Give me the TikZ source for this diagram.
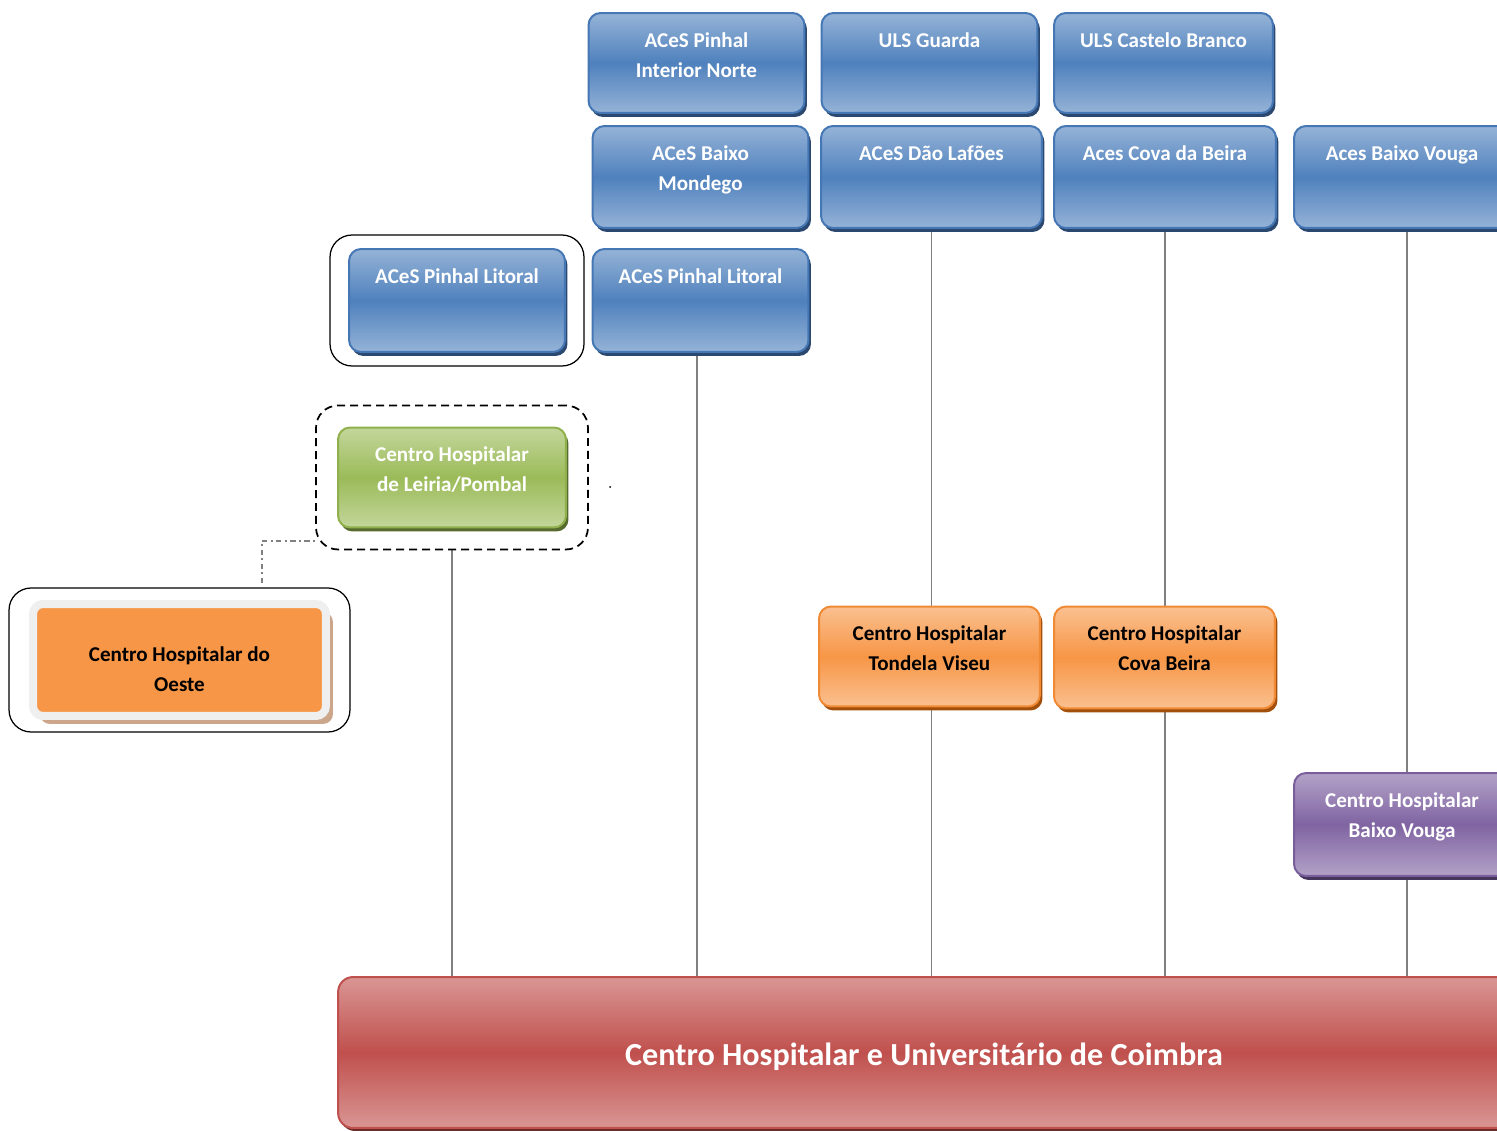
\documentclass[tikz,border=0pt]{standalone}
\usepackage{fontspec}
\setmainfont{Carlito}
\usetikzlibrary{positioning,shadows,fit,backgrounds}

\definecolor{blueLt}{HTML}{95B3D7}
\definecolor{blueMd}{HTML}{4F81BD}
\definecolor{blueBd}{HTML}{4677B5}
\definecolor{blueSh}{HTML}{2A4870}
\definecolor{greenLt}{HTML}{C3D69B}
\definecolor{greenMd}{HTML}{9BBB59}
\definecolor{greenBd}{HTML}{8FB04C}
\definecolor{greenSh}{HTML}{566B2E}
\definecolor{orangeLt}{HTML}{FAC090}
\definecolor{orangeMd}{HTML}{F79646}
\definecolor{orangeBd}{HTML}{F08A35}
\definecolor{orangeSh}{HTML}{A24F0C}
\definecolor{purpleLt}{HTML}{B3A2C7}
\definecolor{purpleMd}{HTML}{8064A2}
\definecolor{purpleBd}{HTML}{7A5E9C}
\definecolor{purpleSh}{HTML}{46355C}
\definecolor{redLt}{HTML}{D99694}
\definecolor{redMd}{HTML}{C0504D}
\definecolor{redSh}{HTML}{6E2A28}
\definecolor{oesteBd}{HTML}{EFEFEF}
\definecolor{oesteSh}{HTML}{CCA68A}

\def\txtgap{0.4cm}

\begin{document}
\begin{tikzpicture}[x=0.02cm, y=-0.02cm, font=\bfseries\fontsize{12}{17}\selectfont]
    \tikzstyle{box}=[rectangle, rounded corners=0.24cm, line width=0.04cm, minimum width=4.32cm, minimum height=2cm, inner sep=0pt]
    \tikzstyle{bluebox}=[box, draw=blueBd, top color=blueLt, bottom color=blueLt, middle color=blueMd, drop shadow={shadow xshift=0.05cm, shadow yshift=-0.08cm, fill=blueSh, opacity=1}]
    \tikzstyle{greenbox}=[box, draw=greenBd, top color=greenLt, bottom color=greenLt, middle color=greenMd, drop shadow={shadow xshift=0.05cm, shadow yshift=-0.08cm, fill=greenSh, opacity=1}]
    \tikzstyle{orangebox}=[box, draw=orangeBd, top color=orangeLt, bottom color=orangeLt, middle color=orangeMd, drop shadow={shadow xshift=0.05cm, shadow yshift=-0.08cm, fill=orangeSh, opacity=1}]
    \tikzstyle{purplebox}=[box, draw=purpleBd, top color=purpleLt, bottom color=purpleLt, middle color=purpleMd, drop shadow={shadow xshift=0.05cm, shadow yshift=-0.08cm, fill=purpleSh, opacity=1}]
    \tikzstyle{redbox}=[box, draw=redMd, rounded corners=0.3cm, top color=redLt, bottom color=redLt, middle color=redMd, drop shadow={shadow xshift=0.04cm, shadow yshift=-0.06cm, fill=redSh, opacity=1}]
    \tikzstyle{oestebox}=[box, draw=oesteBd, fill=orangeMd, line width=0.16cm, rounded corners=0.2cm, drop shadow={shadow xshift=0.14cm, shadow yshift=-0.16cm, fill=oesteSh, opacity=1}]
    \tikzstyle{lbl}=[align=center, inner sep=0pt, text=white]
    \tikzstyle{lblk}=[lbl, text=black]
    \tikzstyle{frame}=[draw, rounded corners=0.44cm, line width=0.025cm]
    \tikzstyle{link}=[draw=black!50, line width=0.035cm]

    \useasboundingbox (0,0) rectangle (1497,1131);

    % top rows
    \node[bluebox] (pinn) at (696.5,63) {};
    \node[lbl, below=\txtgap of pinn.north] (pinn-t) {ACeS Pinhal\\Interior Norte};
    \node[bluebox] (guarda) at (929.5,63) {};
    \node[lbl, below=\txtgap of guarda.north] (guarda-t) {ULS Guarda};
    \node[bluebox, minimum width=4.38cm] (castelo) at (1163.5,63) {};
    \node[lbl, below=\txtgap of castelo.north] (castelo-t) {ULS Castelo Branco};

    \node[bluebox, minimum height=2.04cm] (mondego) at (700.5,177) {};
    \node[lbl, below=\txtgap of mondego.north] (mondego-t) {ACeS Baixo\\Mondego};
    \node[bluebox, minimum width=4.42cm, minimum height=2.04cm] (dao) at (931.5,177) {};
    \node[lbl, below=\txtgap of dao.north] (dao-t) {ACeS Dão Lafões};
    \node[bluebox, minimum width=4.44cm, minimum height=2.04cm] (cova) at (1165,177) {};
    \node[lbl, below=\txtgap of cova.north] (cova-t) {Aces Cova da Beira};
    \node[bluebox, minimum height=2.04cm] (vouga) at (1402,177) {};
    \node[lbl, below=\txtgap of vouga.north] (vouga-t) {Aces Baixo Vouga};

    \node[bluebox, minimum height=2.06cm] (lit1) at (457,300.5) {};
    \node[lbl, below=\txtgap of lit1.north] (lit1-t) {ACeS Pinhal Litoral};
    \node[frame, fit=(lit1), inner xsep=0.36cm, inner ysep=0.26cm] (lit1fr) {};
    \node[bluebox, minimum height=2.06cm] (lit2) at (700.5,300.5) {};
    \node[lbl, below=\txtgap of lit2.north] (lit2-t) {ACeS Pinhal Litoral};

    % hospitals
    \node[greenbox, minimum width=4.56cm] (leiria) at (452,477.5) {};
    \node[lbl, below=\txtgap of leiria.north] (leiria-t) {Centro Hospitalar\\de Leiria/Pombal};
    \node[frame, fit=(leiria), inner xsep=0.42cm, inner ysep=0.42cm, line width=0.035cm, dash pattern=on 0.16cm off 0.1cm] (leirfr) {};
    \coordinate (dot) at (610,487);
    \fill (dot) circle (0.02cm);

    \node[oestebox, minimum width=5.86cm, minimum height=2.24cm] (oeste) at (179.5,660) {};
    \node[lblk] (oeste-t) at ([yshift=-0.19cm]oeste.center) {Centro Hospitalar do\\Oeste};
    \node[frame, fit=(oeste), inner xsep=0.4cm, inner ysep=0.24cm] (oestefr) {};

    \node[orangebox, minimum width=4.42cm] (tondela) at (929.5,656.5) {};
    \node[lblk, below=\txtgap of tondela.north] (tondela-t) {Centro Hospitalar\\Tondela Viseu};
    \node[orangebox, minimum width=4.42cm, minimum height=2.04cm] (chcova) at (1164.5,657.5) {};
    \node[lblk, below=\txtgap of chcova.north] (chcova-t) {Centro Hospitalar\\Cova Beira};

    \node[purplebox, minimum height=2.06cm] (chvouga) at (1402,824.5) {};
    \node[lbl, below=\txtgap of chvouga.north] (chvouga-t) {Centro Hospitalar\\Baixo Vouga};

    \node[redbox, minimum width=23.44cm, minimum height=3.02cm] (chuc) at (924,1052.5) {};
    \node[lbl, font=\bfseries\fontsize{18.3}{22}\selectfont] (chuc-t) at ([yshift=-0.08cm]chuc.center) {Centro Hospitalar e Universitário de Coimbra};

    \coordinate (ddA) at (262,583);
    \coordinate (ddB) at (262,541);

    \begin{scope}[on background layer]
        \draw[link] (leirfr.south) -- (leirfr.south |- chuc.north);
        \draw[link] ([xshift=-0.07cm]lit2.south) -- ([xshift=-0.07cm]lit2.south |- chuc.north);
        \draw[link] (dao.south) -- (dao.south |- chuc.north);
        \draw[link] (cova.south) -- (cova.south |- chuc.north);
        \draw[link] ([xshift=0.1cm]vouga.south) -- ([xshift=0.1cm]vouga.south |- chuc.north);
        \draw[link, dashdotted] (ddA) -- (ddB) -- (ddB -| leirfr.west);
    \end{scope}
\end{tikzpicture}
\end{document}
